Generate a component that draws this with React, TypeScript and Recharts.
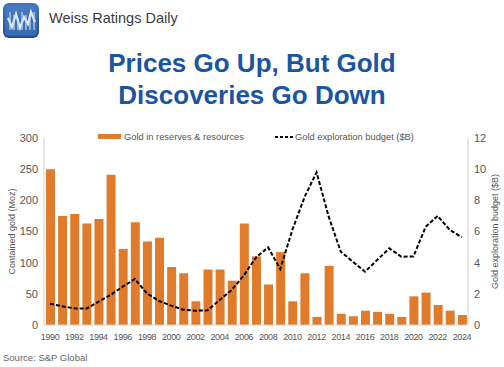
import React from 'react'
import {
  ComposedChart,
  Bar,
  Line,
  XAxis,
  YAxis,
} from 'recharts'

const years = [
  '1990', '1991', '1992', '1993', '1994', '1995', '1996', '1997', '1998', '1999',
  '2000', '2001', '2002', '2003', '2004', '2005', '2006', '2007', '2008', '2009',
  '2010', '2011', '2012', '2013', '2014', '2015', '2016', '2017', '2018', '2019',
  '2020', '2021', '2022', '2023', '2024',
]

// Moz
const reserves = [
  250, 175, 178, 163, 170, 241, 122, 165, 134, 140,
  93, 83, 38, 89, 89, 71, 163, 110, 65, 117,
  38, 83, 13, 95, 18, 14, 23, 21, 18, 13,
  46, 52, 32, 23, 16,
]

// $B
const budget = [
  1.37, 1.2, 1.07, 1.05, 1.5, 1.93, 2.46, 2.95, 2.03, 1.54,
  1.24, 0.98, 0.92, 0.94, 1.6, 2.25, 3.19, 4.34, 4.98, 3.6,
  6.1, 8.2, 9.8, 6.95, 4.7, 4.06, 3.42, 4.17, 4.92, 4.38,
  4.4, 6.3, 7.0, 6.1, 5.63,
]

const leftTicks = [0, 50, 100, 150, 200, 250, 300]
const rightTicks = [0, 2, 4, 6, 8, 10, 12]

const data = years.map((year, i) => ({
  year,
  reserves: reserves[i],
  budget: budget[i],
}))

const FONT = '"Liberation Sans", Arial, Helvetica, sans-serif'
const ORANGE = '#e07b2b'
const TITLE_BLUE = '#1c559f'
const GREY = '#555'

const tickStyle = { fill: GREY, fontSize: 11, fontFamily: FONT }

function AxisTitle({ viewBox, text, dx }: any) {
  const cx = viewBox.x + dx
  const cy = viewBox.y + viewBox.height / 2
  return (
    <text
      x={cx}
      y={cy}
      transform={`rotate(-90, ${cx}, ${cy})`}
      textAnchor="middle"
      dominantBaseline="central"
      fill={GREY}
      fontSize={9}
      fontFamily={FONT}
    >
      {text}
    </text>
  )
}

function Logo() {
  return (
    <g>
      <defs>
        <linearGradient id="logoBg" x1="0" y1="0" x2="0" y2="1">
          <stop offset="0%" stopColor="#3f74bd" />
          <stop offset="100%" stopColor="#1d4a8e" />
        </linearGradient>
      </defs>
      <rect x={3} y={3} width={36} height={35} rx={6} fill="url(#logoBg)" />
      <rect x={5} y={5} width={32} height={31} rx={4} fill="#4f86cc" opacity={0.5} />
      <polyline
        points="8,18 12,27 16,14 20,28 24,17 28,24 31,12 35,22"
        fill="none"
        stroke="#dfe9f7"
        strokeWidth={2.2}
      />
      {[9, 13, 17, 21, 25, 29, 33].map((x, i) => (
        <rect key={i} x={x} y={12 + (i % 3) * 3} width={2} height={18 - (i % 3) * 3} fill="#c9d9ef" opacity={0.6} />
      ))}
    </g>
  )
}

export default function App() {
  return (
    <div
      style={{
        position: 'absolute',
        left: 0,
        top: 0,
        width: 504,
        height: 367,
        background: '#ffffff',
        fontFamily: FONT,
      }}
    >
      <svg width={504} height={367} style={{ position: 'absolute', left: 0, top: 0 }}>
        <Logo />
        <text x={49} y={23} fontSize={14.5} fill="#3a3a3a" fontFamily={FONT}>
          Weiss Ratings Daily
        </text>
        <text x={252} y={72} fontSize={26} fontWeight="bold" fill={TITLE_BLUE} textAnchor="middle" fontFamily={FONT}>
          Prices Go Up, But Gold
        </text>
        <text x={252} y={104} fontSize={26} fontWeight="bold" fill={TITLE_BLUE} textAnchor="middle" fontFamily={FONT}>
          Discoveries Go Down
        </text>

        {/* legend */}
        <rect x={98} y={134} width={23} height={5} fill={ORANGE} />
        <text x={124} y={140} fontSize={9.3} fill={GREY} fontFamily={FONT}>
          Gold in reserves &amp; resources
        </text>
        <line x1={275} y1={137} x2={294} y2={137} stroke="#000" strokeWidth={2} strokeDasharray="3 2" />
        <text x={295} y={140} fontSize={9.3} fill={GREY} fontFamily={FONT}>
          Gold exploration budget ($B)
        </text>

        <text x={3} y={361} fontSize={9.5} fill="#666" fontFamily={FONT}>
          Source: S&amp;P Global
        </text>
      </svg>

      <div style={{ position: 'absolute', left: 0, top: 120 }}>
        <ComposedChart
          width={504}
          height={230}
          data={data}
          margin={{ top: 18, right: 0, bottom: 0, left: 0 }}
        >
          <XAxis
            dataKey="year"
            interval={1}
            height={25}
            tickLine={false}
            axisLine={{ stroke: '#cfcfcf' }}
            tick={{ ...tickStyle, fontSize: 9, letterSpacing: -0.4 }}
            tickMargin={3}
          />
          <YAxis
            yAxisId="left"
            width={44}
            domain={[0, 300]}
            ticks={leftTicks}
            tickLine={false}
            axisLine={{ stroke: '#cfcfcf' }}
            tick={tickStyle}
            tickMargin={0}
            label={{
              content: (props: any) => (
                <AxisTitle viewBox={props.viewBox} text="Contained gold (Moz)" dx={12} />
              ),
            }}
          />
          <YAxis
            yAxisId="right"
            orientation="right"
            width={36}
            domain={[0, 12]}
            ticks={rightTicks}
            tickLine={false}
            axisLine={{ stroke: '#cfcfcf' }}
            tick={tickStyle}
            tickMargin={0}
            label={{
              content: (props: any) => (
                <AxisTitle viewBox={props.viewBox} text="Gold exploration budget ($B)" dx={27} />
              ),
            }}
          />
          <Bar yAxisId="left" dataKey="reserves" fill={ORANGE} barSize={9} isAnimationActive={false} />
          <Line
            yAxisId="right"
            type="linear"
            dataKey="budget"
            stroke="#000"
            strokeWidth={2}
            strokeDasharray="4 2"
            dot={false}
            isAnimationActive={false}
          />
        </ComposedChart>
      </div>
    </div>
  )
}
